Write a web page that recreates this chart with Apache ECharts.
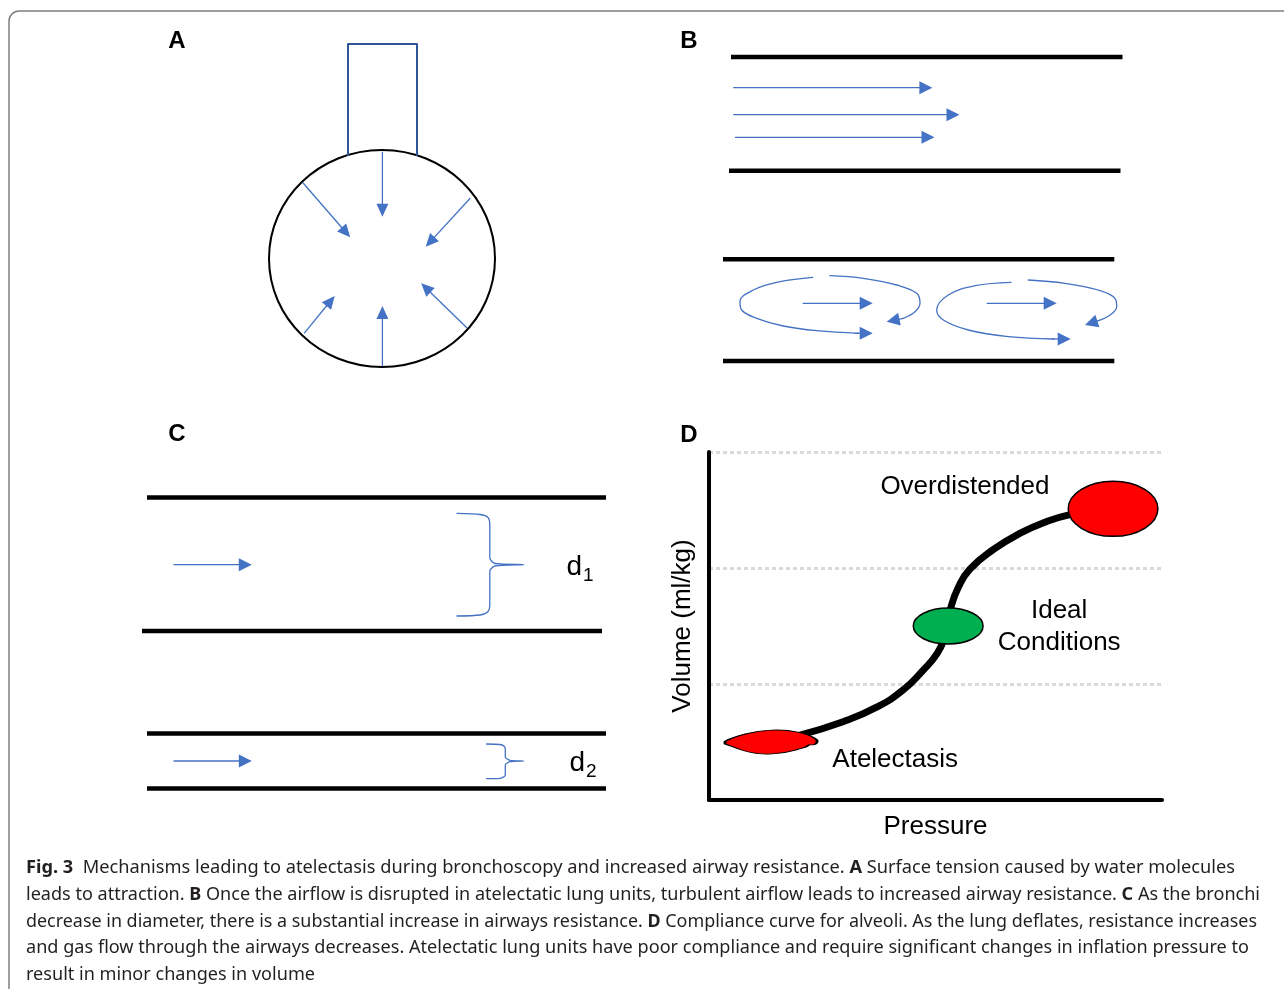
<!DOCTYPE html>
<html><head><meta charset="utf-8">
<script src="https://cdn.jsdelivr.net/npm/echarts@6/dist/echarts.min.js"></script>
<style>html,body{margin:0;padding:0;background:#fff}#c{width:1284px;height:989px}</style>
</head><body><div id="c"></div>
<script>
// ---------------- DATA ----------------
const panelLabels = ['A', 'B', 'C', 'D'];

// Panel A (diagram units, local to panel)
const aBulb = [[222, 238.5, 113, 108.5]];               // cx, cy, rx, ry
const aNeck = [[188, 135], [188, 24], [257, 24], [257, 135]];
const aArrows = [
  [222.4, 131.7, 222.4, 196.7],
  [142.9, 162.7, 190.2, 217.3],
  [310.2, 178.3, 265.7, 226.7],
  [144.1, 313.3, 174.7, 276.0],
  [222.4, 346.0, 222.4, 286.0],
  [307.3, 308.3, 261.2, 263.3]
];

// Panel B
const bWalls = [
  [71, 37, 462.5, 37],
  [69, 150.7, 460.5, 150.7],
  [63, 239.3, 454.3, 239.3],
  [63, 341, 454.3, 341]
];
const bLaminar = [
  [73.2, 67.7, 272.4, 67.7],
  [73.2, 94.7, 299.5, 94.7],
  [74.9, 117.3, 274.5, 117.3]
];
const bCore = [
  [142.7, 283.3, 212.7, 283.3],
  [326.7, 283.3, 396.7, 283.3]
];
const bSwirl1a = [[152.7, 257.3], [120, 261.7], [93.3, 270], [80, 281.7], [81.7, 290], [96.7, 298.3], [123.3, 306], [156.7, 310.7], [199, 313.3]];
const bSwirl1b = [[170, 255.7], [203.3, 258.3], [236.7, 265], [256.7, 273.3], [260, 283.3], [255, 291.7], [243.3, 298.3]];
const bSwirl2a = [[351, 262.3], [315, 265.7], [288.3, 275], [276.7, 290], [283.3, 300], [308.3, 310], [348.3, 316.7], [394, 319]];
const bSwirl2b = [[368.3, 260], [405, 263.3], [438.3, 270], [455, 278.3], [456.7, 286.7], [450, 295], [438.3, 300.7]];
const bSwirlHeads = [
  [195, 313.3, 212.7, 313.3],
  [243.3, 298.3, 226.7, 301.7],
  [392, 319, 410.7, 319],
  [438.3, 300.7, 425, 305]
];

// Panel C
const cWalls = [
  [27, 87.5, 486, 87.5],
  [22, 221, 482, 221],
  [27, 323.5, 486, 323.5],
  [27, 378.5, 486, 378.5]
];
const cArrows = [
  [53.5, 154.7, 131.8, 154.7],
  [53.5, 351, 131.8, 351]
];
const cBrace1 = [[337, 103.3], [360, 104.5], [368, 107.5], [369.8, 115], [369.8, 148], [375, 153.5], [403.7, 154.7], [375, 156], [369.8, 161], [369.8, 194], [368, 201.5], [360, 205], [337, 206]];
const cBrace2 = [[366.5, 334], [380, 334.5], [384.5, 336.5], [385.3, 340], [385.3, 347], [390, 350.3], [403.7, 351], [390, 351.7], [385.3, 355], [385.3, 364], [384.5, 366.5], [380, 368.3], [366.5, 368.7]];
const cDiamLabels = [['d', '1'], ['d', '2']];
const cDiamPos = [[446, 157], [449, 353]];

// Panel D (compliance curve)
const dAxisNames = ['Pressure', 'Volume (ml/kg)'];
const yTicks = [0, 1, 2, 3];
const dCurve = [[2.01, 0.56], [2.96, 0.675], [3.70, 0.80], [4.29, 0.95], [4.73, 1.12], [5.03, 1.26], [5.20, 1.40], [5.28, 1.52], [5.34, 1.66], [5.50, 1.83], [5.76, 1.99], [6.28, 2.16], [6.87, 2.30], [7.45, 2.40], [7.97, 2.46], [8.63, 2.50]];
const dBalloons = [[8.92, 2.51, 0.99, 0.237], [5.28, 1.50, 0.77, 0.155]];
const dBalloonColors = ['#FF0000', '#00B050'];
const dCollapsed = [[1.37, 0.50]];
const dLabelText = ['Overdistended', 'Ideal\nConditions', 'Atelectasis'];
const dLabelPos = [[5.65, 2.70], [7.73, 1.49], [4.11, 0.35]];

// Caption
const captionLines = [
  [['Fig. 3', 1], ['  Mechanisms leading to atelectasis during bronchoscopy and increased airway resistance. ', 0], ['A', 1], [' Surface tension caused by water molecules', 0]],
  [['leads to attraction. ', 0], ['B', 1], [' Once the airflow is disrupted in atelectatic lung units, turbulent airflow leads to increased airway resistance. ', 0], ['C', 1], [' As the bronchi', 0]],
  [['decrease in diameter, there is a substantial increase in airways resistance. ', 0], ['D', 1], [' Compliance curve for alveoli. As the lung deflates, resistance increases', 0]],
  [['and gas flow through the airways decreases. Atelectatic lung units have poor compliance and require significant changes in inflation pressure to', 0]],
  [['result in minor changes in volume', 0]]
];

// ---------------- STYLE / LAYOUT ----------------
const BLUE = '#4472C4', NAVY = '#2F5597';
const SANS = '"Liberation Sans", Arial, sans-serif';
const CAP_FONT = '"Noto Sans", "Open Sans", sans-serif';
const panelGrids = [
  {left: 160, top: 20, width: 480, height: 380},
  {left: 660, top: 20, width: 600, height: 380},
  {left: 120, top: 410, width: 520, height: 400},
  {left: 709, top: 452, width: 453, height: 348}
];
const panelLabelPos = [[177, 41], [689, 41], [177, 434], [689, 435]];
const captionX = 26, captionY0 = 868, captionStep = 26.75, captionSize = 18;
const captionRight = [1235, 1260, 1257, 1249, 315];

// ---------------- HELPERS ----------------
function segSeries(gi, data, color, width) {
  return {
    type: 'custom', coordinateSystem: 'cartesian2d', xAxisIndex: gi, yAxisIndex: gi,
    data, silent: true, z: 2,
    renderItem: (p, api) => {
      const a = api.coord([api.value(0), api.value(1)]);
      const b = api.coord([api.value(2), api.value(3)]);
      return {type: 'line', shape: {x1: a[0], y1: a[1], x2: b[0], y2: b[1]},
        style: {stroke: color, lineWidth: width, lineCap: 'butt'}};
    }
  };
}
function arrowSeries(gi, data, hl, hw, width) {
  return {
    type: 'custom', coordinateSystem: 'cartesian2d', xAxisIndex: gi, yAxisIndex: gi,
    data, silent: true, z: 3,
    renderItem: (p, api) => {
      const a = api.coord([api.value(0), api.value(1)]);
      const b = api.coord([api.value(2), api.value(3)]);
      const dx = b[0] - a[0], dy = b[1] - a[1], L = Math.hypot(dx, dy) || 1;
      const ux = dx / L, uy = dy / L, nx = -uy, ny = ux;
      const bx = b[0] - ux * hl, by = b[1] - uy * hl;
      const ch = [];
      if (L > hl) ch.push({type: 'line', shape: {x1: a[0], y1: a[1], x2: bx + ux, y2: by + uy},
        style: {stroke: BLUE, lineWidth: width}});
      ch.push({type: 'polygon', shape: {points: [[b[0], b[1]], [bx + nx * hw / 2, by + ny * hw / 2], [bx - nx * hw / 2, by - ny * hw / 2]]},
        style: {fill: BLUE}});
      return {type: 'group', children: ch};
    }
  };
}
function ellipseSeries(gi, data, stroke, lw, z) {
  return {
    type: 'custom', coordinateSystem: 'cartesian2d', xAxisIndex: gi, yAxisIndex: gi,
    data, silent: true, z: z,
    renderItem: (p, api) => {
      const c = api.coord([api.value(0), api.value(1)]);
      const s = api.size([api.value(2), api.value(3)]);
      const fill = api.visual('color');
      return {type: 'ellipse', shape: {cx: c[0], cy: c[1], rx: Math.abs(s[0]), ry: Math.abs(s[1])},
        style: {fill: fill, stroke: stroke, lineWidth: lw}};
    }
  };
}
function curveSeries(gi, data, color, width, smooth, z) {
  return {type: 'line', xAxisIndex: gi, yAxisIndex: gi, data, smooth, symbol: 'none', silent: true, z: z || 2,
    lineStyle: {color, width, cap: 'round', join: 'round'}};
}

// ---------------- BUILD ----------------
const grids = panelGrids.map(g => Object.assign({containLabel: false}, g));
const xAxes = [], yAxes = [];
for (let i = 0; i < 3; i++) {
  xAxes.push({type: 'value', gridIndex: i, min: 0, max: panelGrids[i].width, show: false});
  yAxes.push({type: 'value', gridIndex: i, min: 0, max: panelGrids[i].height, inverse: true, show: false});
}
xAxes.push({
  type: 'value', gridIndex: 3, min: 0, max: 10,
  name: dAxisNames[0], nameLocation: 'middle', nameGap: 14,
  nameTextStyle: {fontSize: 26, color: '#000', fontFamily: SANS},
  axisLine: {show: true, onZero: false, lineStyle: {color: '#000', width: 4}},
  axisTick: {show: false}, axisLabel: {show: false}, splitLine: {show: false}
});
yAxes.push({
  type: 'value', gridIndex: 3, min: yTicks[0], max: yTicks[yTicks.length - 1], interval: 1,
  name: dAxisNames[1], nameLocation: 'middle', nameGap: 13, nameRotate: 90,
  nameTextStyle: {fontSize: 26, color: '#000', fontFamily: SANS},
  axisLine: {show: true, onZero: false, lineStyle: {color: '#000', width: 4}},
  axisTick: {show: false}, axisLabel: {show: false},
  splitLine: {show: true, lineStyle: {color: '#d9d9d9', width: 3, type: [4, 3]}}
});

const series = [];
// Panel A
series.push(curveSeries(0, aNeck, NAVY, 2, false, 2));
series.push(Object.assign(ellipseSeries(0, aBulb, '#000', 2, 2), {itemStyle: {color: 'rgba(0,0,0,0)'}}));
series.push(arrowSeries(0, aArrows, 13, 12, 1.3));
// Panel B
series.push(segSeries(1, bWalls, '#000', 4.5));
series.push(arrowSeries(1, bLaminar, 13, 13, 1.3));
series.push(arrowSeries(1, bCore, 13, 13, 1.3));
[bSwirl1a, bSwirl1b, bSwirl2a, bSwirl2b].forEach(s => series.push(curveSeries(1, s, BLUE, 1.3, 0.4, 2)));
series.push(arrowSeries(1, bSwirlHeads, 13, 13, 1.3));
// Panel C
series.push(segSeries(2, cWalls, '#000', 4.5));
series.push(arrowSeries(2, cArrows, 13, 13, 1.3));
series.push(curveSeries(2, cBrace1, BLUE, 1.3, 0.25, 2));
series.push(curveSeries(2, cBrace2, BLUE, 1.3, 0.25, 2));
series.push({
  type: 'scatter', xAxisIndex: 2, yAxisIndex: 2, silent: true, symbolSize: 1,
  itemStyle: {color: 'rgba(0,0,0,0)', opacity: 1},
  data: cDiamPos.map((p, i) => ({value: p, name: cDiamLabels[i][0] + cDiamLabels[i][1]})),
  label: {
    show: true, position: 'right', distance: 0,
    formatter: (p) => { const t = cDiamLabels[p.dataIndex]; return '{d|' + t[0] + '}{s|' + t[1] + '}'; },
    rich: {
      d: {fontSize: 28, fontFamily: SANS, color: '#000', lineHeight: 30},
      s: {fontSize: 19, fontFamily: SANS, color: '#000', lineHeight: 20, padding: [18, 0, 0, 1]}
    }
  }
});
// Panel D
series.push(curveSeries(3, dCurve, '#000', 7, 0.5, 2));
series.push(ellipseSeries(3, dBalloons.map((b, i) => ({value: b, itemStyle: {color: dBalloonColors[i]}})), '#000', 1.5, 3));
series.push({
  type: 'scatter', xAxisIndex: 3, yAxisIndex: 3, silent: true, z: 3,
  symbol: 'path://M0,14 C10,8 30,2 50,1 C70,0 90,5 98,12 C100,16 96,19 90,18 C86,22 80,22 76,24 C60,29 40,30 28,27 C18,25 8,20 0,17 Z',
  symbolSize: [92, 24],
  itemStyle: {color: '#FF0000', borderColor: '#000', borderWidth: 1.5, opacity: 1},
  data: dCollapsed
});
series.push({
  type: 'scatter', xAxisIndex: 3, yAxisIndex: 3, silent: true, z: 4, symbolSize: 1,
  itemStyle: {color: 'rgba(0,0,0,0)', opacity: 1},
  data: dLabelPos.map((p, i) => ({value: p, name: dLabelText[i]})),
  label: {show: true, position: 'inside', formatter: '{b}', fontSize: 26, lineHeight: 32,
    fontFamily: SANS, color: '#000', align: 'center'}
});

// graphics: border, panel labels, caption
const graphics = [{
  type: 'rect', silent: true, z: 0,
  shape: {x: 9, y: 11, width: 1320, height: 1020, r: 10},
  style: {fill: 'none', stroke: '#7f7f7f', lineWidth: 1.5}
}];
panelLabels.forEach((t, i) => graphics.push({
  type: 'text', x: panelLabelPos[i][0], y: panelLabelPos[i][1], silent: true,
  style: {text: t, fontSize: 24, fontWeight: 'bold', fontFamily: SANS, fill: '#000', align: 'center', verticalAlign: 'middle'}
}));
const ctx = document.createElement('canvas').getContext('2d');
function tw(t, b) { ctx.font = (b ? 'bold ' : '') + captionSize + 'px ' + CAP_FONT; return ctx.measureText(t).width; }
captionLines.forEach((segs, li) => {
  const widths = segs.map(s => tw(s[0], s[1]));
  const total = widths.reduce((a, b) => a + b, 0);
  const sc = (captionRight[li] - captionX) / total;
  let cx = captionX;
  segs.forEach((s, si) => {
    graphics.push({
      type: 'text', x: cx, y: captionY0 + li * captionStep, scaleX: sc, originX: 0, silent: true,
      style: {text: s[0], fontSize: captionSize, fontWeight: s[1] ? 'bold' : 'normal', fontFamily: CAP_FONT,
        fill: '#231f20', align: 'left', verticalAlign: 'middle'}
    });
    cx += widths[si] * sc;
  });
});

const chart = echarts.init(document.getElementById('c'), null, {renderer: 'canvas'});
chart.setOption({
  animation: false,
  backgroundColor: '#fff',
  grid: grids, xAxis: xAxes, yAxis: yAxes,
  series, graphic: graphics
});
</script></body></html>
